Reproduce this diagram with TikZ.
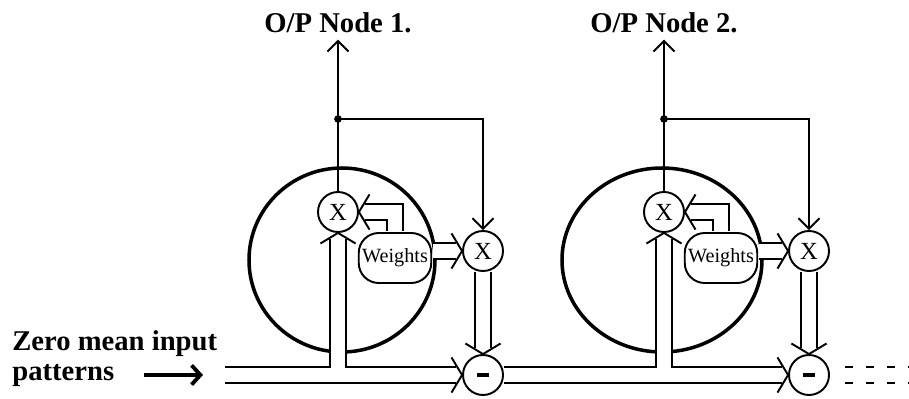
\documentclass[tikz,border=0pt]{standalone}
\usepackage{fontspec}
\setmainfont{Liberation Serif}
\usetikzlibrary{arrows.meta,positioning}

% open vee head for the double (vector) lines
\pgfdeclarearrow{
  name = BusTip,
  setup code = {
    \pgfarrowssettipend{0pt}
    \pgfarrowssetlineend{-3.2pt}
    \pgfarrowssetbackend{-6pt}
  },
  drawing code = {
    \pgfsetlinewidth{1.1pt}
    \pgfsetmiterjoin
    \pgfpathmoveto{\pgfpoint{-6pt}{10pt}}
    \pgfpathlineto{\pgfpointorigin}
    \pgfpathlineto{\pgfpoint{-6pt}{-10pt}}
    \pgfusepathqstroke
  }
}

\tikzset{
  wire/.style={line width=1.1pt},
  bus/.style={line width=1.1pt, double, double distance=8.5pt},
  busarrow/.style={bus, -BusTip},
  feed/.style={wire, -{Straight Barb[length=6pt,width=12pt]}},
  mult/.style={draw, circle, line width=1.1pt, minimum size=0.8cm, inner sep=0pt, fill=white, font=\fontsize{14}{14}\selectfont},
  wbox/.style={draw, rounded corners=0.4cm, line width=1.1pt, minimum width=1.45cm, minimum height=1.0cm, inner sep=0pt, fill=white, font=\fontsize{11.5}{12}\selectfont},
  outlabel/.style={anchor=base, inner sep=3.3pt, font=\bfseries\fontsize{16.3}{16}\selectfont},
  inlabel/.style={anchor=base west, inner sep=0pt, font=\bfseries\fontsize{16.3}{16}\selectfont},
  cell/.style={line width=2pt}
}

\begin{document}
\begin{tikzpicture}
\useasboundingbox (0,0) rectangle (18.18,7.96);

% input patterns
\node[inlabel] (zero) at (0.24,0.96) {Zero mean input};
\node[inlabel] (pat) at (0.24,0.36) {patterns};
\coordinate (in) at (4.50,0.46);
\draw[line width=2.2pt, -{Straight Barb[length=5pt,width=11pt]}, shorten <=0.58cm, shorten >=0.44cm] (pat.east) -- (pat.east -| in);

% one output node per pass
\foreach \n/\dx/\src/\cx/\rx in {1/0/in/6.84/1.86, 2/6.52/m1/6.72/2.0} {
  \draw[cell] (\cx+\dx,2.76) ellipse [x radius=\rx, y radius=1.84];

  \node[mult] (xa\n) at (6.76+\dx,3.72) {X};
  \node[wbox] (w\n) at (7.90+\dx,2.80) {Weights};
  \node[mult] (xb\n) at (9.66+\dx,2.94) {X};
  \node[mult] (m\n) at (9.66+\dx,0.46) {\rule{7pt}{2.2pt}};
  \node[outlabel] (op\n) at (6.76+\dx,7.30) {O/P Node \n.};
  \coordinate (d\n) at (6.76+\dx,5.58);

  \draw[busarrow] (\src) -- (m\n);
  \draw[busarrow] ([yshift=4.25pt]xa\n |- m\n) -- (xa\n);
  \draw[busarrow] ([yshift=0.55pt]w\n.north) |- (xa\n);
  \draw[busarrow] ([xshift=0.55pt]w\n.east |- xb\n) -- (xb\n);
  \draw[busarrow] (xb\n) -- (m\n);

  \draw[feed] (xa\n) -- (op\n);
  \fill (d\n) circle (2.2pt);
  \draw[feed] (d\n) -| (xb\n);
}

% more nodes follow
\coordinate (more) at (18.18,0.46);
\draw[bus, dash pattern=on 4.5pt off 7.5pt, shorten <=0.3cm] (m2) -- (more);
\end{tikzpicture}
\end{document}
